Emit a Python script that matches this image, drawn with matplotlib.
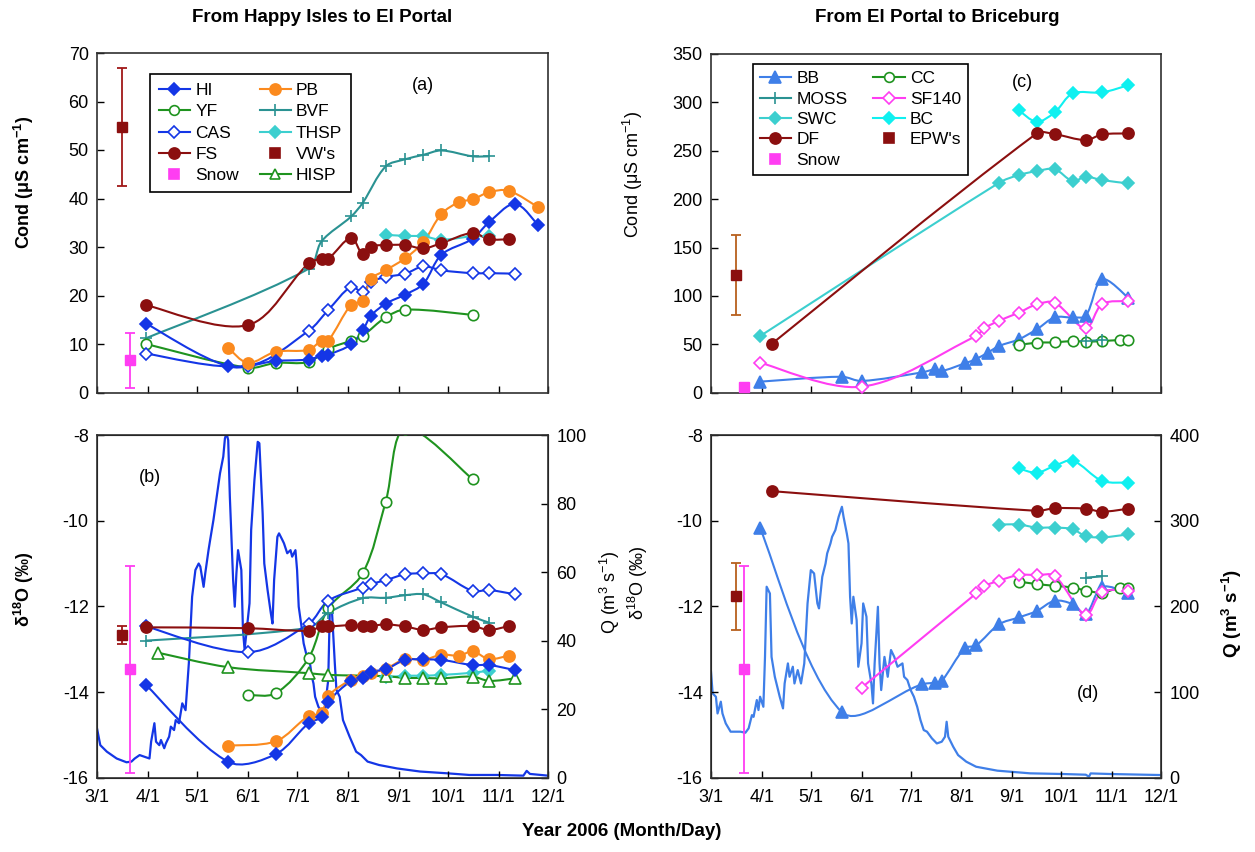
import matplotlib
matplotlib.use('Agg')
import matplotlib.pyplot as plt
import matplotlib.dates as mdates
from matplotlib.path import Path
from matplotlib.patches import PathPatch
from matplotlib.lines import Line2D
from matplotlib.ticker import FuncFormatter
import numpy as np
import pandas as pd

plt.rcParams['font.family'] = ['Liberation Sans', 'DejaVu Sans']
plt.rcParams['mathtext.default'] = 'regular'
plt.rcParams['axes.unicode_minus'] = False

# ---------------- (a) conductivity, Happy Isles -> El Portal
hi_c_dates = ['3/31', '5/20', '6/18', '7/8', '7/16', '7/20', '8/3', '8/10', '8/15', '8/24', '9/5', '9/16', '9/27', '10/16', '10/26', '11/11', '11/25']
hi_c = [14.2, 5.4, 6.5, 6.8, 7.6, 7.8, 9.9, 12.8, 15.8, 18.3, 20.2, 22.4, 28.4, 31.7, 35.1, 38.9, 34.5]
pb_c_dates = ['5/20', '6/1', '6/18', '7/8', '7/16', '7/20', '8/3', '8/10', '8/15', '8/24', '9/5', '9/16', '9/27', '10/8', '10/16', '10/26', '11/7', '11/25']
pb_c = [9.2, 6.1, 8.4, 8.8, 10.7, 10.7, 18.1, 18.9, 23.4, 25.2, 27.7, 31.0, 36.8, 39.3, 39.8, 41.3, 41.6, 38.2]
yf_c_dates = ['3/31', '6/1', '6/18', '7/8', '7/20', '8/3', '8/10', '8/24', '9/5', '10/16']
yf_c = [10.0, 5.1, 6.1, 6.3, 9.0, 10.7, 11.7, 15.5, 17.1, 16.0]
cas_c_dates = ['3/31', '6/1', '7/8', '7/20', '8/3', '8/10', '8/15', '8/24', '9/5', '9/16', '9/27', '10/16', '10/26', '11/11']
cas_c = [8.0, 5.5, 12.7, 17.0, 21.8, 20.7, 22.8, 23.8, 24.5, 26.0, 25.2, 24.6, 24.6, 24.5]
bvf_c_dates = ['3/31', '7/8', '7/16', '8/3', '8/10', '8/24', '9/5', '9/16', '9/27', '10/16', '10/26']
bvf_c = [11.2, 25.5, 31.2, 36.3, 39.1, 46.6, 48.1, 49.0, 49.9, 48.7, 48.7]
thsp_c_dates = ['8/24', '9/5', '9/16', '9/27', '10/16', '10/26']
thsp_c = [32.5, 32.3, 32.2, 31.5, 32.2, 32.2]
fs_c_dates = ['3/31', '6/1', '7/8', '7/16', '7/20', '8/3', '8/10', '8/15', '8/24', '9/5', '9/16', '9/27', '10/16', '10/26', '11/7']
fs_c = [18.0, 13.9, 26.6, 27.6, 27.6, 31.9, 28.5, 30.1, 30.4, 30.4, 29.7, 30.8, 32.9, 31.6, 31.6]
vw_c, vw_c_err = 54.8, 12.2
snow_c, snow_c_err = 6.6, 5.6

# ---------------- (b) d18O, Happy Isles -> El Portal
hi_o_dates = ['3/31', '5/20', '6/18', '7/8', '7/16', '7/20', '8/3', '8/10', '8/15', '8/24', '9/5', '9/16', '9/27', '10/16', '10/26', '11/11']
hi_o = [-13.84, -15.63, -15.45, -14.73, -14.58, -14.23, -13.74, -13.68, -13.53, -13.47, -13.25, -13.24, -13.25, -13.37, -13.37, -13.49]
pb_o_dates = ['5/20', '6/18', '7/8', '7/16', '7/20', '8/3', '8/10', '8/15', '8/24', '9/5', '9/16', '9/27', '10/8', '10/16', '10/26', '11/7']
pb_o = [-15.25, -15.15, -14.56, -14.49, -14.09, -13.71, -13.62, -13.56, -13.46, -13.23, -13.25, -13.13, -13.15, -13.05, -13.23, -13.15]
yf_o_dates = ['6/1', '6/18', '7/8', '7/20', '8/10', '8/24', '9/5', '10/16']
yf_o = [-14.07, -14.03, -13.21, -12.05, -11.23, -9.56, -7.85, -9.03]
cas_o_dates = ['3/31', '6/1', '7/8', '7/20', '8/10', '8/15', '8/24', '9/5', '9/16', '9/27', '10/16', '10/26', '11/11']
cas_o = [-12.47, -13.07, -12.41, -11.87, -11.56, -11.48, -11.39, -11.25, -11.23, -11.25, -11.64, -11.62, -11.72]
bvf_o_dates = ['3/31', '7/8', '7/20', '8/10', '8/24', '9/5', '9/16', '9/27', '10/16', '10/26']
bvf_o = [-12.80, -12.50, -12.15, -11.81, -11.80, -11.74, -11.72, -11.91, -12.24, -12.38]
thsp_o_dates = ['8/24', '9/5', '9/16', '9/27', '10/16', '10/26']
thsp_o = [-13.66, -13.62, -13.62, -13.60, -13.55, -13.50]
fs_o_dates = ['3/31', '6/1', '7/8', '7/16', '7/20', '8/3', '8/10', '8/15', '8/24', '9/5', '9/16', '9/27', '10/16', '10/26', '11/7']
fs_o = [-12.49, -12.51, -12.57, -12.47, -12.47, -12.44, -12.47, -12.46, -12.42, -12.47, -12.55, -12.49, -12.46, -12.55, -12.46]
hisp_o_dates = ['4/7', '5/20', '7/8', '7/20', '8/24', '9/5', '9/16', '9/27', '10/16', '10/26', '11/11']
hisp_o = [-13.08, -13.42, -13.56, -13.60, -13.63, -13.67, -13.67, -13.68, -13.64, -13.74, -13.68]
vw_o, vw_o_err = -12.67, 0.21
snow_o, snow_o_err = -13.47, 2.41

# Happy Isles discharge (m3/s)
hi_q_dates = ['3/1', '3/3', '3/7', '3/13', '3/19', '3/22', '3/24', '3/27', '3/30', '4/2', '4/3', '4/5', '4/6', '4/8',
              '4/9', '4/11', '4/12', '4/14', '4/15', '4/17', '4/18', '4/20', '4/21', '4/22', '4/24', '4/26', '4/28',
              '4/30', '5/2', '5/3', '5/5', '5/6', '5/8', '5/9', '5/11', '5/13', '5/15', '5/17', '5/18', '5/19',
              '5/20', '5/21', '5/23', '5/24', '5/25', '5/26', '5/28', '5/29', '5/30', '6/2', '6/3', '6/5', '6/7',
              '6/8', '6/10', '6/11', '6/13', '6/15', '6/16', '6/17', '6/19', '6/20', '6/22', '6/23', '6/25', '6/27',
              '6/28', '6/30', '7/1', '7/2', '7/4', '7/5', '7/7', '7/8', '7/10', '7/11', '7/12', '7/14', '7/16',
              '7/18', '7/20', '7/21', '7/22', '7/24', '7/25', '7/27', '7/29', '8/2', '8/6', '8/9', '8/13', '8/20',
              '8/31', '9/14', '9/30', '10/14', '10/31', '11/16', '11/18', '11/20', '12/1']
hi_q = [14.4, 9.5, 7.6, 5.6, 4.5, 4.7, 5.6, 6.6, 6.1, 5.6, 10.5, 15.9, 10.5, 9.5,
        11.0, 8.6, 10.0, 12.0, 14.9, 13.9, 16.8, 15.9, 18.8, 21.7, 19.7, 33.4, 52.8,
        60.6, 62.5, 61.6, 55.7, 59.6, 66.4, 69.4, 75.2, 82.0, 88.8, 93.7, 99.0, 100.5,
        98.5, 82.0, 57.7, 49.9, 59.6, 66.4, 60.6, 43.1, 37.3, 50.9, 72.3, 86.9, 98.0,
        97.6, 77.1, 62.5, 54.8, 48.0, 45.0, 57.7, 70.3, 71.3, 69.4, 68.4, 65.5, 66.4,
        64.5, 66.4, 60.6, 49.9, 43.1, 39.2, 35.3, 36.3, 29.5, 27.5, 23.6, 20.7, 19.3,
        20.7, 28.5, 49.9, 51.0, 33.4, 25.6, 23.6, 16.8, 12.0, 7.6, 6.6, 4.7, 3.7,
        2.7, 1.8, 1.3, 0.8, 0.8, 0.6, 2.0, 1.1, 0.6]

# ---------------- (c) conductivity, El Portal -> Briceburg
bb_c_dates = ['3/31', '5/20', '6/1', '7/8', '7/16', '7/20', '8/3', '8/10', '8/17', '8/24', '9/5', '9/16', '9/27', '10/8', '10/16', '10/26', '11/11']
bb_c = [11.4, 16.5, 12.1, 21.0, 24.1, 22.4, 30.3, 34.8, 41.3, 48.2, 55.1, 65.4, 77.8, 77.8, 79.5, 117.1, 98.1]
cc_c_dates = ['9/5', '9/16', '9/27', '10/8', '10/16', '10/26', '11/6', '11/11']
cc_c = [49.2, 51.7, 52.0, 53.4, 52.7, 53.4, 54.4, 54.4]
moss_c_dates = ['10/16', '10/26']
moss_c = [53.4, 54.4]
sf_c_dates = ['3/31', '6/1', '8/10', '8/15', '8/24', '9/5', '9/16', '9/27', '10/16', '10/26', '11/11']
sf_c = [31.0, 6.2, 58.5, 66.5, 74.4, 82.6, 91.3, 93.0, 66.5, 91.6, 94.7]
swc_c_dates = ['3/31', '8/24', '9/5', '9/16', '9/27', '10/8', '10/16', '10/26', '11/11']
swc_c = [58.5, 216.9, 224.9, 229.0, 231.0, 218.7, 223.1, 219.7, 216.3]
bc_c_dates = ['9/5', '9/16', '9/27', '10/8', '10/26', '11/11']
bc_c = [292.0, 280.0, 289.6, 309.2, 310.3, 317.8]
df_c_dates = ['4/7', '9/16', '9/27', '10/16', '10/26', '11/11']
df_c = [50.3, 267.9, 267.2, 261.0, 266.9, 267.9]
epw_c, epw_c_err = 121.6, 41.8
snow2_c = 6.2

# ---------------- (d) d18O, El Portal -> Briceburg
bb_o_dates = ['3/31', '5/20', '7/8', '7/16', '7/20', '8/3', '8/10', '8/24', '9/5', '9/16', '9/27', '10/8', '10/16', '10/26', '11/11']
bb_o = [-10.18, -14.47, -13.82, -13.78, -13.74, -12.98, -12.91, -12.42, -12.26, -12.11, -11.87, -11.95, -12.18, -11.55, -11.69]
cc_o_dates = ['9/5', '9/16', '9/27', '10/8', '10/16', '10/26', '11/6', '11/11']
cc_o = [-11.42, -11.48, -11.52, -11.56, -11.63, -11.68, -11.56, -11.56]
moss_o_dates = ['10/16', '10/26']
moss_o = [-11.33, -11.30]
sf_o_dates = ['6/1', '8/10', '8/15', '8/24', '9/5', '9/16', '9/27', '10/16', '10/26', '11/11']
sf_o = [-13.90, -11.70, -11.53, -11.40, -11.27, -11.27, -11.29, -12.20, -11.66, -11.64]
swc_o_dates = ['8/24', '9/5', '9/16', '9/27', '10/8', '10/16', '10/26', '11/11']
swc_o = [-10.09, -10.09, -10.16, -10.16, -10.20, -10.36, -10.39, -10.32]
bc_o_dates = ['9/5', '9/16', '9/27', '10/8', '10/26', '11/11']
bc_o = [-8.78, -8.88, -8.72, -8.60, -9.07, -9.11]
df_o_dates = ['4/7', '9/16', '9/27', '10/16', '10/26', '11/11']
df_o = [-9.31, -9.77, -9.71, -9.72, -9.79, -9.72]
epw_o, epw_o_err = -11.77, 0.78

# Briceburg discharge (m3/s)
bb_q_dates = ['3/1', '3/2', '3/4', '3/5', '3/7', '3/8', '3/10', '3/13', '3/16', '3/19', '3/22', '3/24', '3/26',
              '3/27', '3/29', '3/30', '3/31', '4/2', '4/3', '4/4', '4/6', '4/7', '4/9', '4/11', '4/12', '4/14',
              '4/15', '4/17', '4/18', '4/20', '4/21', '4/23', '4/25', '4/27', '4/29', '5/1', '5/3', '5/5', '5/6',
              '5/8', '5/10', '5/11', '5/13', '5/14', '5/16', '5/18', '5/19', '5/20', '5/21', '5/23', '5/24',
              '5/25', '5/26', '5/27', '5/29', '5/30', '6/1', '6/2', '6/4', '6/5', '6/7', '6/8', '6/9', '6/11',
              '6/12', '6/13', '6/15', '6/17', '6/19', '6/21', '6/23', '6/26', '6/27', '6/29', '7/1', '7/3',
              '7/5', '7/7', '7/9', '7/11', '7/14', '7/17', '7/20', '7/22', '7/23', '7/24', '7/27', '7/30',
              '8/4', '8/10', '8/23', '9/12', '10/2', '10/16', '10/18', '10/19', '10/31', '12/1']
bb_q = [123.7, 98.4, 94.5, 75.0, 88.7, 75.0, 63.4, 53.7, 53.7, 53.7, 52.5, 57.6, 73.0,
        71.0, 90.6, 79.0, 94.5, 82.8, 141.0, 222.9, 215.0, 141.0, 117.8, 102.3, 94.5, 80.9,
        110.0, 133.4, 117.8, 129.5, 110.0, 125.6, 110.0, 133.4, 203.4, 242.3, 238.4, 203.4, 197.6,
        234.5, 250.0, 261.8, 273.4, 281.2, 289.0, 304.5, 310.4, 316.2, 304.5, 285.0, 273.4,
        211.2, 180.0, 211.2, 184.0, 129.5, 156.8, 203.4, 187.9, 133.4, 110.0, 86.7, 133.4, 199.5,
        133.4, 102.3, 141.0, 117.8, 149.0, 141.0, 129.5, 133.4, 117.8, 114.0, 102.3, 94.5,
        82.8, 67.3, 55.6, 53.7, 45.9, 40.0, 42.0, 47.8, 65.3, 47.8, 36.2, 26.4,
        18.7, 12.8, 8.2, 5.1, 4.3, 3.5, 1.2, 5.0, 4.3, 3.1]

# ---------------- colours
C_HI = '#1436e6'
C_PB = '#fb8a1e'
C_GR = '#1f931f'
C_TEAL = '#2a9292'
C_THSP = '#3ccfcf'
C_RED = '#8b0f0f'
C_MAG = '#ff3df2'
C_BB = '#3f7fe8'
C_BC = '#0ff0f0'
C_EPWBAR = '#b8601e'

W, H = 1255, 852


def dn(lst):
    return mdates.date2num(pd.to_datetime(['2006/' + s for s in lst]))


def smooth(ax, x, y, color, lw=1.5, z=2):
    # Excel-like smoothed line: chord-length Catmull-Rom drawn as cubic Beziers,
    # computed in screen-proportional units so the curve shape matches the plot
    x0, x1 = ax.get_xlim()
    y0, y1 = ax.get_ylim()
    pos = ax.get_position()
    sx = pos.width * W / (x1 - x0)
    sy = pos.height * H / (y1 - y0)
    p = np.column_stack([np.asarray(x, float) * sx, np.asarray(y, float) * sy])
    n = len(p)
    if n < 2:
        return
    d = np.linalg.norm(np.diff(p, axis=0), axis=1)
    d[d == 0] = 1e-9
    tan = np.zeros_like(p)
    for i in range(n):
        if i == 0:
            tan[i] = (p[1] - p[0]) / (2 * d[0])
        elif i == n - 1:
            tan[i] = (p[-1] - p[-2]) / (2 * d[-1])
        else:
            tan[i] = (p[i + 1] - p[i - 1]) / (d[i - 1] + d[i])
    verts = [p[0]]
    codes = [Path.MOVETO]
    for i in range(n - 1):
        verts += [p[i] + tan[i] * d[i] / 3, p[i + 1] - tan[i + 1] * d[i] / 3, p[i + 1]]
        codes += [Path.CURVE4] * 3
    verts = np.array(verts) / np.array([sx, sy])
    ax.add_patch(PathPatch(Path(verts, codes), fill=False, edgecolor=color, lw=lw, zorder=z))


def series(ax, dates, vals, color, marker, open_=False, ms=7, mew=1.2):
    x = dn(dates)
    smooth(ax, x, vals, color)
    ax.plot(x, vals, ls='none', marker=marker, color=color, ms=ms, mew=mew,
            mfc='white' if open_ else color, mec=color, zorder=3)


def hand(color, marker, open_=False, ms=7, line=True):
    return Line2D([], [], color=color, marker=marker, ms=ms, lw=1.5 if line else 0,
                  ls='-' if line else 'none', mfc='white' if open_ else color, mec=color, mew=1.2)


def errpt(ax, date, val, err, color, ecolor, ms=7.5):
    ax.errorbar(dn([date]), [val], yerr=[err] if err else None, fmt='s', color=color, mfc=color, mec=color,
                ecolor=ecolor, ms=ms, capsize=3.5, elinewidth=1.3, capthick=1.3, zorder=4)


def month_fmt(v, p):
    t = mdates.num2date(v)
    return f'{t.month}/{t.day}'


def style(ax, ylim, yticks, labels=True):
    ax.set_xlim(dn(['3/1', '12/1']))
    ax.set_ylim(*ylim)
    ax.set_yticks(yticks)
    ax.xaxis.set_major_locator(mdates.MonthLocator())
    ax.xaxis.set_major_formatter(FuncFormatter(month_fmt))
    ax.tick_params(direction='in', length=5, width=1, labelsize=13, pad=6)
    ax.tick_params(axis='x', labelbottom=labels, pad=8)
    for s in ax.spines.values():
        s.set_linewidth(1.2)
        s.set_color('#303030')


fig = plt.figure(figsize=(12.55, 8.52), dpi=100)


def axes_px(l, t, r, b):
    return fig.add_axes([l / W, 1 - b / H, (r - l) / W, (b - t) / H])


ax_a = axes_px(97, 53, 548, 392.5)
ax_b = axes_px(97, 435, 548, 777.7)
ax_c = axes_px(711, 54, 1161, 392.7)
ax_d = axes_px(711, 435, 1161, 777.7)

# ---- panel (a)
style(ax_a, (0, 70), range(0, 71, 10), labels=False)
series(ax_a, bvf_c_dates, bvf_c, C_TEAL, '+', ms=9)
series(ax_a, thsp_c_dates, thsp_c, C_THSP, 'D', ms=6.5)
series(ax_a, yf_c_dates, yf_c, C_GR, 'o', open_=True, ms=7.5)
series(ax_a, cas_c_dates, cas_c, C_HI, 'D', open_=True, ms=6.5)
series(ax_a, pb_c_dates, pb_c, C_PB, 'o', ms=8)
series(ax_a, hi_c_dates, hi_c, C_HI, 'D', ms=6.5)
series(ax_a, fs_c_dates, fs_c, C_RED, 'o', ms=8)
errpt(ax_a, '3/16', vw_c, vw_c_err, C_RED, '#a01818')
errpt(ax_a, '3/21', snow_c, snow_c_err, C_MAG, C_MAG)
ax_a.set_ylabel(r'Cond ($\mu$S cm$^{-1}$)', fontsize=13, fontweight='bold')
ax_a.yaxis.set_label_coords(-0.135, 0.62)
ax_a.text(0.723, 0.905, '(a)', transform=ax_a.transAxes, fontsize=13, ha='center', va='center')
h_a = [hand(C_HI, 'D', ms=6.5), hand(C_GR, 'o', True), hand(C_HI, 'D', True, ms=6.5), hand(C_RED, 'o', ms=8),
       hand(C_MAG, 's', line=False), hand(C_PB, 'o', ms=8), hand(C_TEAL, '+', ms=9), hand(C_THSP, 'D', ms=6.5),
       hand(C_RED, 's', line=False), hand(C_GR, '^', True)]
l_a = ['HI', 'YF', 'CAS', 'FS', 'Snow', 'PB', 'BVF', 'THSP', "VW's", 'HISP']
leg = ax_a.legend(h_a, l_a, ncol=2, loc='upper left', bbox_to_anchor=(0.1175, 0.938), borderaxespad=0,
                  fontsize=12.5, handlelength=1.8, handletextpad=0.3, columnspacing=1.2, labelspacing=0.36,
                  fancybox=False, edgecolor='black', framealpha=1, borderpad=0.5, numpoints=1)
leg.get_frame().set_linewidth(1.2)

# ---- panel (b)
axr_b = ax_b.twinx()
axr_b.plot(dn(hi_q_dates), hi_q, color=C_HI, lw=1.6, zorder=2)
axr_b.set_ylim(0, 100)
axr_b.set_yticks(range(0, 101, 20))
axr_b.tick_params(direction='in', length=5, width=1, labelsize=13, pad=6)
axr_b.set_ylabel(r'Q (m$^{3}$ s$^{-1}$)', fontsize=13)
axr_b.yaxis.set_label_coords(1.11, 0.54)
ax_b.set_zorder(axr_b.get_zorder() + 1)
ax_b.patch.set_visible(False)

style(ax_b, (-16, -8), range(-16, -7, 2))
series(ax_b, yf_o_dates, yf_o, C_GR, 'o', open_=True, ms=7.5)
series(ax_b, thsp_o_dates, thsp_o, C_THSP, 'D', ms=6.5)
series(ax_b, hisp_o_dates, hisp_o, C_GR, '^', open_=True, ms=8)
series(ax_b, bvf_o_dates, bvf_o, C_TEAL, '+', ms=9)
series(ax_b, cas_o_dates, cas_o, C_HI, 'D', open_=True, ms=6.5)
series(ax_b, pb_o_dates, pb_o, C_PB, 'o', ms=8)
series(ax_b, hi_o_dates, hi_o, C_HI, 'D', ms=6.5)
series(ax_b, fs_o_dates, fs_o, C_RED, 'o', ms=8)
errpt(ax_b, '3/16', vw_o, vw_o_err, C_RED, '#a01818')
errpt(ax_b, '3/21', snow_o, snow_o_err, C_MAG, C_MAG)
ax_b.set_ylabel(r'$\delta^{18}$O (‰)', fontsize=13, fontweight='bold')
ax_b.yaxis.set_label_coords(-0.135, 0.55)
ax_b.text(0.118, 0.877, '(b)', transform=ax_b.transAxes, fontsize=13, ha='center', va='center')

# ---- panel (c)
style(ax_c, (0, 350), range(0, 351, 50), labels=False)
series(ax_c, swc_c_dates, swc_c, C_THSP, 'D', ms=6.5)
series(ax_c, bc_c_dates, bc_c, C_BC, 'D', ms=6.5)
series(ax_c, df_c_dates, df_c, C_RED, 'o', ms=8)
series(ax_c, bb_c_dates, bb_c, C_BB, '^', ms=8)
series(ax_c, cc_c_dates, cc_c, C_GR, 'o', open_=True, ms=7.5)
series(ax_c, moss_c_dates, moss_c, C_TEAL, '+', ms=9)
series(ax_c, sf_c_dates, sf_c, C_MAG, 'D', open_=True, ms=6.5)
errpt(ax_c, '3/16', epw_c, epw_c_err, C_RED, C_EPWBAR)
errpt(ax_c, '3/21', snow2_c, None, C_MAG, C_MAG)
ax_c.set_ylabel(r'Cond ($\mu$S cm$^{-1}$)', fontsize=13)
ax_c.yaxis.set_label_coords(-0.147, 0.645)
ax_c.text(0.693, 0.917, '(c)', transform=ax_c.transAxes, fontsize=13, ha='center', va='center')
h_c = [hand(C_BB, '^', ms=8), hand(C_TEAL, '+', ms=9), hand(C_THSP, 'D', ms=6.5), hand(C_RED, 'o', ms=8),
       hand(C_MAG, 's', line=False), hand(C_GR, 'o', True), hand(C_MAG, 'D', True, ms=6.5), hand(C_BC, 'D', ms=6.5),
       hand(C_RED, 's', line=False)]
l_c = ['BB', 'MOSS', 'SWC', 'DF', 'Snow', 'CC', 'SF140', 'BC', "EPW's"]
leg = ax_c.legend(h_c, l_c, ncol=2, loc='upper left', bbox_to_anchor=(0.093, 0.970), borderaxespad=0,
                  fontsize=12.5, handlelength=1.8, handletextpad=0.3, columnspacing=1.5, labelspacing=0.3,
                  fancybox=False, edgecolor='black', framealpha=1, borderpad=0.4, numpoints=1)
leg.get_frame().set_linewidth(1.2)

# ---- panel (d)
axr_d = ax_d.twinx()
axr_d.plot(dn(bb_q_dates), bb_q, color=C_BB, lw=1.6, zorder=2)
axr_d.set_ylim(0, 400)
axr_d.set_yticks(range(0, 401, 100))
axr_d.tick_params(direction='in', length=5, width=1, labelsize=13, pad=6)
axr_d.set_ylabel(r'Q (m$^{3}$ s$^{-1}$)', fontsize=13.5, fontweight='bold')
axr_d.yaxis.set_label_coords(1.13, 0.48)
ax_d.set_zorder(axr_d.get_zorder() + 1)
ax_d.patch.set_visible(False)

style(ax_d, (-16, -8), range(-16, -7, 2))
series(ax_d, bc_o_dates, bc_o, C_BC, 'D', ms=6.5)
series(ax_d, df_o_dates, df_o, C_RED, 'o', ms=8)
series(ax_d, swc_o_dates, swc_o, C_THSP, 'D', ms=6.5)
series(ax_d, cc_o_dates, cc_o, C_GR, 'o', open_=True, ms=7.5)
series(ax_d, moss_o_dates, moss_o, C_TEAL, '+', ms=9)
series(ax_d, bb_o_dates, bb_o, C_BB, '^', ms=8)
series(ax_d, sf_o_dates, sf_o, C_MAG, 'D', open_=True, ms=6.5)
errpt(ax_d, '3/16', epw_o, epw_o_err, C_RED, C_EPWBAR)
errpt(ax_d, '3/21', snow_o, snow_o_err, C_MAG, C_MAG)
ax_d.set_ylabel(r'$\delta^{18}$O (‰)', fontsize=13)
ax_d.yaxis.set_label_coords(-0.136, 0.57)
ax_d.text(0.838, 0.247, '(d)', transform=ax_d.transAxes, fontsize=13, ha='center', va='center')

fig.text(322 / W, 1 - 18 / H, 'From Happy Isles to El Portal', fontsize=13.5, fontweight='bold', ha='center', va='center')
fig.text(937 / W, 1 - 18 / H, 'From El Portal to Briceburg', fontsize=13.5, fontweight='bold', ha='center', va='center')
fig.text(622 / W, 1 - 832 / H, 'Year 2006 (Month/Day)', fontsize=13.5, fontweight='bold', ha='center', va='center')

fig.savefig('out.png', dpi=100)
